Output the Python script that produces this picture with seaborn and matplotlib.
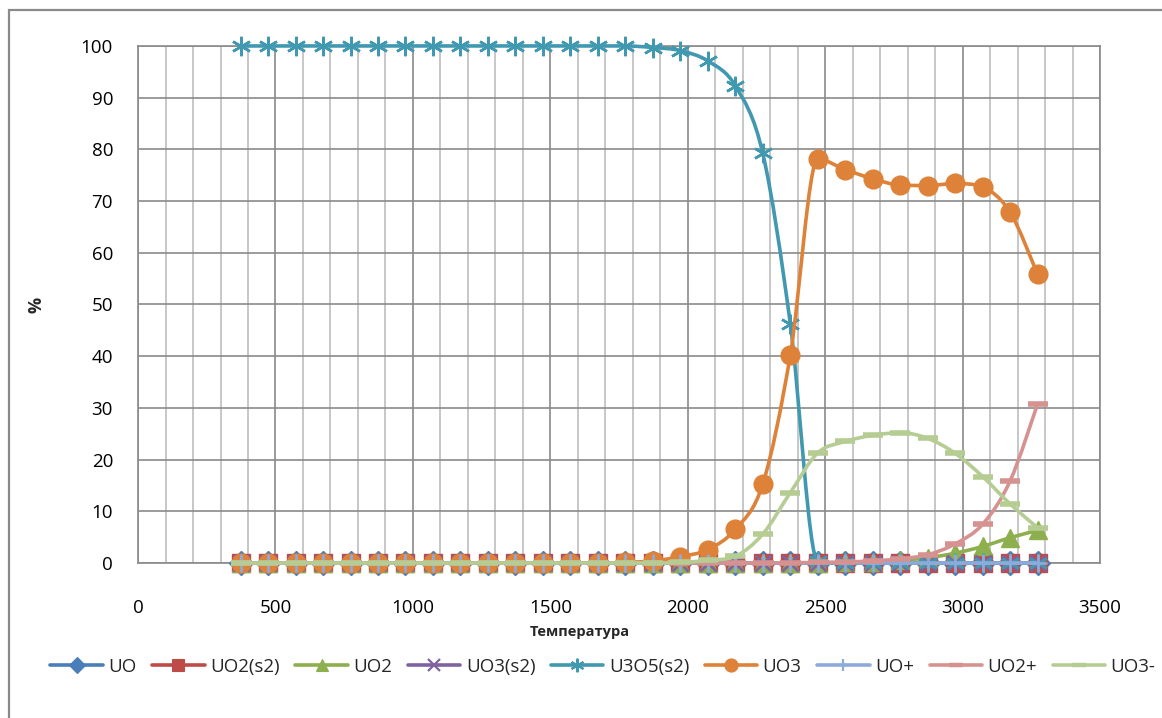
import numpy as np
import pandas as pd
import matplotlib
matplotlib.use("Agg")
import matplotlib.pyplot as plt
from matplotlib.path import Path
from matplotlib.patches import PathPatch, Rectangle
from matplotlib.lines import Line2D
from matplotlib.ticker import MultipleLocator
import seaborn as sns

# Temperature points (K)
temps = [373, 473, 573, 673, 773, 873, 973, 1073, 1173, 1273,
         1373, 1473, 1573, 1673, 1773, 1873, 1973, 2073, 2173, 2273,
         2373, 2473, 2573, 2673, 2773, 2873, 2973, 3073, 3173, 3273]

uo = [0.0] * 30
uo2_s2 = [0.0] * 30
uo2 = [0, 0, 0, 0, 0, 0, 0, 0, 0, 0,
       0, 0, 0, 0, 0, 0, 0, 0, 0, 0,
       0, 0, 0.1, 0.2, 0.5, 1.0, 1.9, 3.2, 4.9, 6.3]
uo3_s2 = [0.0] * 30
u3o5_s2 = [100, 100, 100, 100, 100, 100, 100, 100, 100, 100,
           100, 100, 100, 100, 100, 99.7, 99.1, 97.1, 92.3, 79.2,
           46.3, 0.3, 0, 0, 0, 0, 0, 0, 0, 0]
uo3 = [0, 0, 0, 0, 0, 0, 0, 0, 0, 0,
       0, 0, 0, 0, 0.1, 0.4, 1.2, 2.6, 6.5, 15.3,
       40.2, 78.1, 76.1, 74.3, 73.1, 73.0, 73.4, 72.7, 67.8, 55.8]
uo_plus = [0.0] * 30
uo2_plus = [0, 0, 0, 0, 0, 0, 0, 0, 0, 0,
            0, 0, 0, 0, 0, 0, 0, 0, 0, 0,
            0.05, 0.1, 0.2, 0.4, 0.8, 1.6, 3.7, 7.5, 15.9, 30.8]
uo3_minus = [0, 0, 0, 0, 0, 0, 0, 0, 0, 0,
             0, 0, 0, 0, 0, 0, 0.1, 0.5, 1.3, 5.6,
             13.6, 21.3, 23.5, 24.7, 25.2, 24.1, 21.2, 16.7, 11.4, 6.8]

names = ["UO", "UO2(s2)", "UO2", "UO3(s2)", "U3O5(s2)", "UO3", "UO+", "UO2+", "UO3-"]
series = [uo, uo2_s2, uo2, uo3_s2, u3o5_s2, uo3, uo_plus, uo2_plus, uo3_minus]

# style per series: colour, marker, marker size, marker edge width
styles = {
    "UO":       ("#4A7EBB", "D", 12, 1.0),
    "UO2(s2)":  ("#BE4B48", "s", 13, 1.0),
    "UO2":      ("#8DAF4E", "^", 13, 1.0),
    "UO3(s2)":  ("#7E62A1", "x", 12, 2.0),
    "U3O5(s2)": ("#4198B1", (6, 2, 0), 14, 1.8),
    "UO3":      ("#DD8238", "o", 13.5, 1.0),
    "UO+":      ("#8EAADA", "+", 13, 2.0),
    "UO2+":     ("#D59290", "_", 14, 4.0),
    "UO3-":     ("#B5CD93", "_", 14, 4.0),
}

df = pd.DataFrame({"T": temps})
for n, s in zip(names, series):
    df[n] = s
long_df = df.melt(id_vars="T", var_name="species", value_name="pct")


def smooth_path(x, y):
    # smoothed line like Excel's: cubic Bezier through the points,
    # tangents limited so the curve does not overshoot the points
    x = np.asarray(x, float)
    y = np.asarray(y, float)
    n = len(x)
    dx = np.zeros(n)
    dy = np.zeros(n)
    for i in range(n):
        a = max(i - 1, 0)
        b = min(i + 1, n - 1)
        dx[i] = (x[b] - x[a]) / 6
        dy[i] = (y[b] - y[a]) / 6
        lo = abs(y[i] - y[a]) if i > 0 else np.inf
        hi = abs(y[b] - y[i]) if i < n - 1 else np.inf
        if 0 < i < n - 1 and (y[i] - y[a]) * (y[b] - y[i]) <= 0:
            dy[i] = 0.0
        else:
            lim = min(lo, hi)
            dy[i] = np.clip(dy[i], -lim, lim)
    verts = [(x[0], y[0])]
    codes = [Path.MOVETO]
    for i in range(n - 1):
        verts += [(x[i] + dx[i], y[i] + dy[i]),
                  (x[i + 1] - dx[i + 1], y[i + 1] - dy[i + 1]),
                  (x[i + 1], y[i + 1])]
        codes += [Path.CURVE4] * 3
    return Path(verts, codes)


sns.set_theme(style="white")
plt.rcParams["font.family"] = ["Open Sans", "DejaVu Sans"]

fig = plt.figure(figsize=(11.62, 7.18), dpi=100)
ax = fig.add_axes([0.1188, 0.2159, 0.8279, 0.7201])

for i, n in enumerate(names):
    color, marker, ms, mew = styles[n]
    sub = long_df[long_df["species"] == n]
    patch = PathPatch(smooth_path(sub["T"], sub["pct"]), facecolor="none",
                      edgecolor=color, lw=2.6, zorder=3 + i * 0.1,
                      capstyle="round", joinstyle="round", clip_on=False)
    ax.add_patch(patch)
    sns.lineplot(data=sub, x="T", y="pct", ax=ax, color=color, marker=marker,
                 markersize=ms, markeredgewidth=mew, markeredgecolor=color,
                 linestyle="none", zorder=3.05 + i * 0.1, legend=False,
                 estimator=None, clip_on=False)

ax.set_xlim(0, 3500)
ax.set_ylim(0, 100)
ax.xaxis.set_major_locator(MultipleLocator(500))
ax.xaxis.set_minor_locator(MultipleLocator(100))
ax.yaxis.set_major_locator(MultipleLocator(10))
ax.grid(which="major", axis="both", color="#8a8a8a", lw=1.2, zorder=0)
ax.grid(which="minor", axis="x", color="#bdbdbd", lw=1.2, zorder=0)
ax.set_axisbelow(True)
for side in ["left", "bottom", "right", "top"]:
    ax.spines[side].set_color("#8a8a8a")
    ax.spines[side].set_linewidth(1.2)

ax.tick_params(axis="x", which="both", length=0, pad=26, labelsize=13.5, labelcolor="black")
ax.tick_params(axis="y", which="both", length=0, pad=18, labelsize=13.5, labelcolor="black")
ax.set_xlabel("")
ax.set_ylabel("")

fig.text(580 / 1162, 1 - 632 / 718, "Температура", ha="center", va="center",
         fontsize=10.5, fontweight="bold")
fig.text(37 / 1162, 1 - 305 / 718, "%", ha="center", va="center",
         fontsize=13, fontweight="bold", rotation=90)

handles = []
for n in names:
    color, marker, ms, mew = styles[n]
    handles.append(Line2D([], [], color=color, lw=2.6, marker=marker,
                          markersize=ms * 0.7, markeredgewidth=mew * 0.8,
                          markeredgecolor=color))
fig.legend(handles, names, loc="center", bbox_to_anchor=(603 / 1162, 1 - 667 / 718),
           ncol=9, frameon=False, fontsize=13.5, handlelength=2.8,
           handletextpad=0.3, columnspacing=0.82)

# chart area border (only left and top edges fall inside the image)
fig.patches.append(Rectangle((9 / 1162, -0.1), 1.2, 1.1 - 10 / 718,
                             transform=fig.transFigure, fill=False,
                             edgecolor="#8a8a8a", lw=1.6))

fig.savefig("out.png", dpi=100)
